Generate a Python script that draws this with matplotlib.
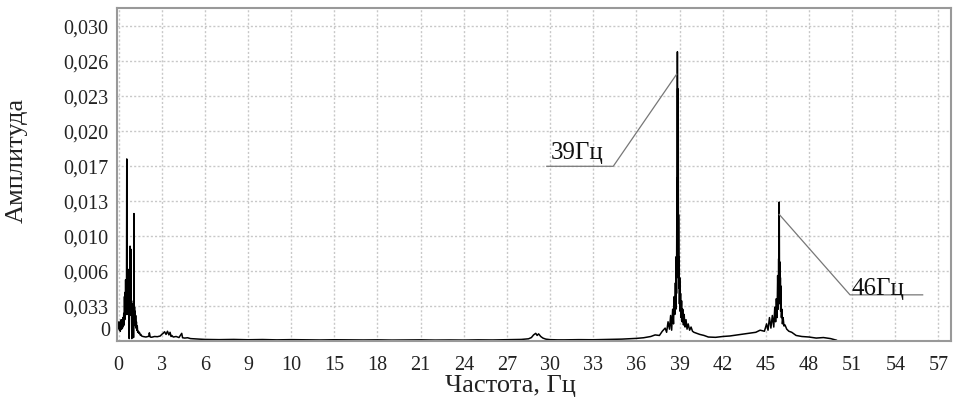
import matplotlib
matplotlib.use("Agg")
import matplotlib.pyplot as plt

plt.rcParams['font.family'] = ['Liberation Serif', 'DejaVu Serif']

# ---- spectrum data (frequency in Hz, amplitude x 1e-3) ----
freq = [0.00, 0.03, 0.06, 0.09, 0.12, 0.15, 0.18, 0.21, 0.24, 0.27, 0.30, 0.33, 0.36, 0.39,
        0.41, 0.43, 0.45, 0.47, 0.49, 0.51, 0.53, 0.55, 0.57, 0.59, 0.61, 0.63, 0.65, 0.67,
        0.69, 0.71, 0.73, 0.74, 0.76, 0.78, 0.80, 0.82, 0.84, 0.86, 0.88, 0.90, 0.92, 0.94,
        0.96, 0.98, 1.00, 1.02, 1.04, 1.06, 1.07, 1.09, 1.11, 1.13, 1.15, 1.17, 1.19, 1.21,
        1.24, 1.27, 1.30, 1.33, 1.37, 1.41, 1.45, 1.50, 1.55, 1.60,
        1.7, 1.9, 2.1, 2.14, 2.2, 2.3, 2.5, 2.7, 2.9, 3.0, 3.1, 3.2, 3.3, 3.4, 3.5, 3.58, 3.65,
        3.7, 3.8, 4.0, 4.2, 4.39, 4.45, 4.6, 4.8, 5.0, 5.3, 5.6, 6.0,
        7, 8, 9, 10, 11, 12, 13, 14, 15, 16, 17, 18, 19, 20, 21, 22, 23, 24, 25, 26, 27, 28,
        28.5, 28.7, 28.85, 29.0, 29.1, 29.2, 29.35, 29.5, 29.7, 30.0, 30.5,
        31, 32, 33, 34, 35, 35.5, 36, 36.5, 37, 37.3, 37.6, 37.8, 38.0, 38.1, 38.2, 38.3,
        38.38, 38.45, 38.52, 38.58, 38.63, 38.67, 38.71, 38.74, 38.77, 38.79, 38.805, 38.82,
        38.83, 38.84, 38.85, 38.86, 38.87, 38.88, 38.89, 38.90, 38.91, 38.92, 38.93, 38.95,
        38.97, 38.99, 39.01, 39.04, 39.07, 39.10, 39.14, 39.18, 39.22, 39.27, 39.32, 39.38,
        39.45, 39.52, 39.6, 39.7, 39.8, 39.9, 40.0, 40.2, 40.4, 40.7, 41.0,
        41.5, 42, 42.5, 43, 43.5, 44, 44.3, 44.6, 44.9, 45.05, 45.15, 45.25, 45.35, 45.45,
        45.55, 45.62, 45.68, 45.73, 45.78, 45.82, 45.86, 45.89, 45.91, 45.93, 45.95, 45.97,
        45.99, 46.01, 46.03, 46.05, 46.08, 46.11, 46.15, 46.2, 46.26, 46.33, 46.45, 46.6, 46.8,
        47.1, 47.5, 48.0, 48.5, 49.0, 49.5, 49.9]

amp_milli = [1.2, 1.8, 1.0, 1.6, 0.9, 1.5, 2.0, 1.1, 1.8, 1.2, 2.2, 1.4, 2.6, 1.5,
             4.2, 2.0, 4.6, 2.4, 5.8, 2.8, 4.4, 3.0, 17.3, 2.5, 5.2, 3.0, 6.8, 2.6,
             4.8, 2.0, 4.4, 0.2, 5.0, 3.0, 9.0, 2.6, 4.2, 8.7, 2.4, 3.8, 0.2, 3.4,
             2.2, 3.5, 1.8, 3.2, 0.3, 3.0, 12.1, 2.0, 3.2, 1.6, 2.8, 1.4, 2.4, 1.2,
             1.8, 1.0, 1.4, 0.8, 0.9, 0.7, 0.8, 0.55, 0.6, 0.45,
             0.40, 0.35, 0.42, 0.75, 0.35, 0.33, 0.40, 0.38, 0.45, 0.60, 0.70, 0.85, 0.60, 0.90,
             0.55, 0.80, 0.40, 0.50, 0.35, 0.40, 0.30, 0.70, 0.28, 0.25, 0.28, 0.20, 0.18, 0.15, 0.12,
             0.10, 0.12, 0.09, 0.11, 0.08, 0.10, 0.09, 0.07, 0.09, 0.08, 0.07, 0.08, 0.06, 0.07,
             0.08, 0.06, 0.07, 0.06, 0.08, 0.07, 0.09, 0.12,
             0.18, 0.30, 0.55, 0.70, 0.50, 0.65, 0.40, 0.25, 0.15, 0.10, 0.08,
             0.08, 0.10, 0.09, 0.12, 0.15, 0.18, 0.22, 0.28, 0.40, 0.55, 0.50, 0.90, 1.20, 0.8, 1.80, 1.1,
             2.4, 1.0, 3.0, 1.6, 4.2, 2.5, 5.5, 3.0, 8.0, 4.5, 10.5, 6.0,
             15.5, 8.0, 27.5, 12.0, 24.0, 9.0, 23.5, 10.0, 20.0, 7.0, 12.0, 5.0,
             8.0, 3.5, 6.0, 2.8, 4.5, 2.2, 3.8, 1.8, 3.0, 1.5, 2.5, 1.3,
             2.0, 1.1, 1.6, 1.0, 1.3, 0.9, 0.8, 0.7, 0.6, 0.5, 0.35,
             0.32, 0.40, 0.45, 0.55, 0.65, 0.75, 0.80, 1.0, 0.9, 1.6, 1.0, 2.2, 1.2, 2.4,
             1.3, 3.2, 1.8, 4.0, 2.2, 6.2, 3.0, 7.8, 4.0, 13.2, 4.5, 7.5,
             3.5, 6.0, 2.8, 5.2, 2.2, 3.0, 1.6, 2.2, 1.4, 1.5, 1.1, 0.9, 0.8,
             0.5, 0.4, 0.35, 0.25, 0.3, 0.2, 0.05]
amp = [v / 1000.0 for v in amp_milli]

x_ticks = [0, 3, 6, 9, 12, 15, 18, 21, 24, 27, 30, 33, 36, 39, 42, 45, 48, 51, 54, 57]
x_tick_labels = ["0", "3", "6", "9", "10", "15", "18", "21", "24", "27", "30", "33", "36",
                 "39", "42", "45", "48", "51", "54", "57"]
y_step = 0.030 / 9
y_ticks = [k * y_step for k in range(10)]
y_tick_labels = ["0", "0,033", "0,006", "0,010", "0,013", "0,017", "0,020", "0,023", "0,026", "0,030"]

peak_labels = ["39Гц", "46Гц"]
peak_points = [(38.80, 0.02537), (45.93, 0.01202)]
label_lines = [(29.77, 34.39, 0.01660), (50.85, 55.90, 0.004364)]
label_text_pos = [(30.05, 0.01800), (50.95, 0.00505)]

fig = plt.figure(figsize=(9.58, 4.06), dpi=100)
ax = fig.add_axes([116.7 / 958, 64.3 / 406, (950.7 - 116.7) / 958, (397 - 64.3) / 406])

ax.plot(freq, amp, color='black', lw=1.1)

ax.set_xlim(-0.13, 57.85)
ax.set_ylim(0, 0.030 + 0.50 * y_step)

fs_tick = 14.5
ax.set_xticks(x_ticks)
ax.set_xticklabels(x_tick_labels, fontsize=fs_tick)
ax.set_yticks(y_ticks)
ax.set_yticklabels([""] + y_tick_labels[1:], fontsize=fs_tick)
ax.tick_params(axis='both', length=0, colors='#222222')
ax.tick_params(axis='x', pad=10)
ax.tick_params(axis='y', pad=6)
ax.annotate(y_tick_labels[0], xy=(0, 0), xycoords=('axes fraction', 'data'),
            xytext=(-6, 10), textcoords='offset pixels', ha='right', va='center',
            fontsize=fs_tick, color='#222222')

ax.grid(True, color='#c8c8c8', linestyle=(0, (1.5, 1.5)), linewidth=1.0)
ax.set_axisbelow(True)
for s in ax.spines.values():
    s.set_color('#999999')
    s.set_linewidth(1.5)

for lab, pk, ln, tp in zip(peak_labels, peak_points, label_lines, label_text_pos):
    x0, x1, yl = ln
    if pk[0] > x1:
        ax.plot([x0, x1, pk[0]], [yl, yl, pk[1]], color='#777777', lw=0.9)
    else:
        ax.plot([x1, x0, pk[0]], [yl, yl, pk[1]], color='#777777', lw=0.9)
    ax.text(tp[0], tp[1], lab, fontsize=18, ha='left', va='center', color='#111111')

fig.text(17 / 958, 1 - 160 / 406, "Амплитуда", rotation=90, ha='center', va='center',
         fontsize=19, color='#222222')
fig.text(510 / 958, 1 - 386 / 406, "Частота, Гц", ha='center', va='center',
         fontsize=19, color='#222222')

fig.savefig("out.png", dpi=100)
